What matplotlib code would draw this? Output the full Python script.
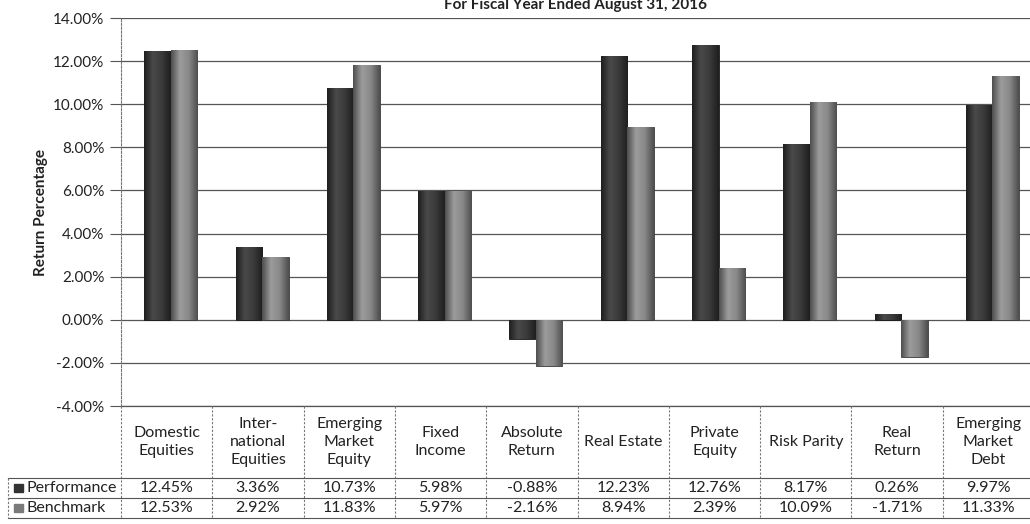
import numpy as np
import matplotlib.pyplot as plt
from matplotlib.colors import LinearSegmentedColormap

categories = ["Domestic\nEquities", "Inter-\nnational\nEquities", "Emerging\nMarket\nEquity",
              "Fixed\nIncome", "Absolute\nReturn", "Real Estate", "Private\nEquity",
              "Risk Parity", "Real\nReturn", "Emerging\nMarket\nDebt"]
performance = [12.45, 3.36, 10.73, 5.98, -0.88, 12.23, 12.76, 8.17, 0.26, 9.97]
benchmark = [12.53, 2.92, 11.83, 5.97, -2.16, 8.94, 2.39, 10.09, -1.71, 11.33]
series_names = ["Performance", "Benchmark"]
yticks = [-4, -2, 0, 2, 4, 6, 8, 10, 12, 14]

plt.rcParams['font.family'] = ['Lato', 'DejaVu Sans']

W, H = 1030, 524
fig = plt.figure(figsize=(W / 100, H / 100), dpi=100)
ax = fig.add_axes([121 / W, 1 - 406 / H, 913 / W, 388 / H])

x = np.arange(len(categories))
bw = 0.29
off = 0.045
dark_cmap = LinearSegmentedColormap.from_list("d", ["#1e1e1e", "#4a4a4a", "#3a3a3a", "#1e1e1e"])
light_cmap = LinearSegmentedColormap.from_list("l", ["#4e4e4e", "#9c9c9c", "#888888", "#4e4e4e"])

bars_p = ax.bar(x + off - bw / 2, performance, bw, color="#333333", edgecolor="#1a1a1a", lw=0.6, zorder=3)
bars_b = ax.bar(x + off + bw / 2, benchmark, bw, color="#7a7a7a", edgecolor="#3a3a3a", lw=0.6, zorder=3)

grad = np.linspace(0, 1, 64).reshape(1, -1)
for bars, cm in ((bars_p, dark_cmap), (bars_b, light_cmap)):
    for b in bars:
        x0, y0 = b.get_x(), b.get_y()
        x1, y1 = x0 + b.get_width(), y0 + b.get_height()
        im = ax.imshow(grad, extent=[x0, x1, min(y0, y1), max(y0, y1)], cmap=cm,
                       aspect='auto', zorder=3.5, interpolation='bicubic')
        im.set_clip_path(b)

ax.set_xlim(-0.5, len(categories) - 0.5)
ax.set_ylim(-4, 14)
ax.set_yticks(yticks)
ax.set_yticklabels([f"{v:.2f}%" for v in yticks], fontsize=11, color="#222222")
ax.set_xticks([])
ax.yaxis.grid(True, color="#555555", lw=0.9, zorder=0)
ax.tick_params(axis='y', length=8, color="#555555", pad=4)
for s in ("top", "right", "bottom"):
    ax.spines[s].set_visible(False)
ax.spines["left"].set_linestyle((0, (2, 1.5)))
ax.spines["left"].set_color("#777777")
ax.axhline(-4, color="#555555", lw=0.9, clip_on=False)
ax.set_ylabel("Return Percentage", fontsize=11, fontweight='bold', labelpad=4, color="#222222")

fig.text(575 / W, 1 - 9 / H, "For Fiscal Year Ended August 31, 2016", ha='center', va='baseline',
         fontsize=11, fontweight='bold', color="#222222")

# data table below the plot
tr = ax.get_xaxis_transform()
y_hdr = -(478 - 406) / 388
y_r1 = -(498 - 406) / 388
y_r2 = -(518 - 406) / 388
fs = 11.5
for i, cat in enumerate(categories):
    ax.text(i, y_hdr / 2, cat, transform=tr, ha='center', va='center', fontsize=fs,
            linespacing=1.35, clip_on=False, color="#222222")
    ax.text(i, (y_hdr + y_r1) / 2, f"{performance[i]:.2f}%", transform=tr, ha='center',
            va='center', fontsize=fs, clip_on=False, color="#222222")
    ax.text(i, (y_r1 + y_r2) / 2, f"{benchmark[i]:.2f}%", transform=tr, ha='center',
            va='center', fontsize=fs, clip_on=False, color="#222222")

for k in range(len(categories) + 1):
    ax.plot([k - 0.5, k - 0.5], [0, y_r2], transform=tr, color="#777777", lw=0.8,
            ls=(0, (2, 1.5)), clip_on=False)
for yy in (y_hdr, y_r1, y_r2):
    ax.plot([-0.5, len(categories) - 0.5], [yy, yy], transform=tr, color="#555555", lw=0.8,
            clip_on=False)

# row labels with swatches
fx0, fx1 = 8 / W, 121 / W
for yy in (y_hdr, y_r1, y_r2):
    fy = 1 - (406 - yy * 388) / H
    fig.add_artist(plt.Line2D([fx0, fx1], [fy, fy], color="#555555", lw=0.8))
fig.add_artist(plt.Line2D([fx0, fx0], [1 - 478 / H, 1 - 518 / H], color="#777777", lw=0.8,
                          ls=(0, (2, 1.5))))
for name, col, py in ((series_names[0], "#333333", 488), (series_names[1], "#7a7a7a", 508)):
    fig.add_artist(plt.Rectangle((14 / W, 1 - (py + 4) / H), 9 / W, 8 / H, color=col))
    fig.text(27 / W, 1 - py / H, name, ha='left', va='center', fontsize=fs, color="#222222")

fig.savefig("out.png", dpi=100)
